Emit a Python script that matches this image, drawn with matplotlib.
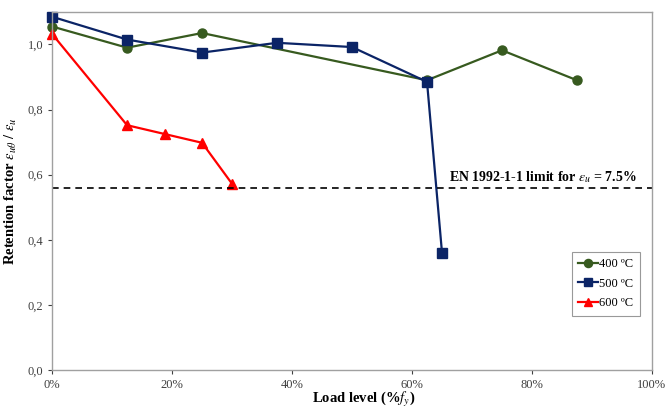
import matplotlib
matplotlib.use("Agg")
import matplotlib.pyplot as plt
from matplotlib.ticker import FuncFormatter

plt.rcParams["font.family"] = ["Liberation Serif", "DejaVu Serif"]
plt.rcParams["mathtext.fontset"] = "stix"

# load level (% of fy) and retention factor per temperature
load_400 = [0.0, 12.5, 25.0, 62.5, 75.0, 87.5]
ret_400 = [1.055, 0.990, 1.035, 0.890, 0.982, 0.890]

load_500 = [0.0, 12.5, 25.0, 37.5, 50.0, 62.5, 65.0]
ret_500 = [1.085, 1.015, 0.975, 1.005, 0.992, 0.885, 0.360]

load_600 = [0.0, 12.5, 18.75, 25.0, 30.0]
ret_600 = [1.032, 0.752, 0.725, 0.698, 0.572]

limit = 0.56

GREEN = "#375a1f"
NAVY = "#0b2466"
RED = "#ff0000"
SPINE = "#a0a0a0"

fig = plt.figure(figsize=(6.68, 4.09), dpi=100)
ax = fig.add_axes([0.078, 0.095, 0.898, 0.876])

ax.plot(load_400, ret_400, color=GREEN, marker="o", ms=6.5, lw=1.6, label="400 ºC", clip_on=False)
ax.plot(load_500, ret_500, color=NAVY, marker="s", ms=6.5, lw=1.6, label="500 ºC", clip_on=False)
ax.plot(load_600, ret_600, color=RED, marker="^", ms=6.5, lw=1.6, label="600 ºC", clip_on=False)
ax.axhline(limit, color="black", lw=1.2, ls=(0, (4, 3)))

ax.text(97.5, limit + 0.008, r"EN 1992-1-1 limit for $\varepsilon_u$ = 7.5%",
        ha="right", va="bottom", fontsize=10, fontweight="bold")

ax.set_xlim(0, 100)
ax.set_ylim(0, 1.1)
ax.set_xticks([0, 20, 40, 60, 80, 100])
ax.set_yticks([0, 0.2, 0.4, 0.6, 0.8, 1.0])
ax.xaxis.set_major_formatter(FuncFormatter(lambda v, p: f"{v:.0f}%"))
ax.yaxis.set_major_formatter(FuncFormatter(lambda v, p: f"{v:.1f}".replace(".", ",")))
ax.tick_params(labelsize=9, colors="#404040", length=3, width=0.8, direction="out")
for s in ax.spines.values():
    s.set_color(SPINE)
    s.set_linewidth(1.0)

ax.set_xlabel(r"Load level (%$f_y$)", fontsize=10.5, fontweight="bold")
ax.xaxis.set_label_coords(0.52, -0.055)
ax.set_ylabel(r"Retention factor $\varepsilon_{u\theta}$ / $\varepsilon_u$",
              fontsize=10.5, fontweight="bold")
ax.yaxis.set_label_coords(-0.055, 0.5)

leg = ax.legend(loc="lower right", bbox_to_anchor=(0.99, 0.135), fontsize=9,
                frameon=True, fancybox=False, handlelength=1.6, handletextpad=0.1,
                borderpad=0.5, labelspacing=0.6, markerscale=0.9)
leg.get_frame().set_edgecolor("#808080")
leg.get_frame().set_linewidth(0.8)

fig.savefig("out.png", dpi=100)
